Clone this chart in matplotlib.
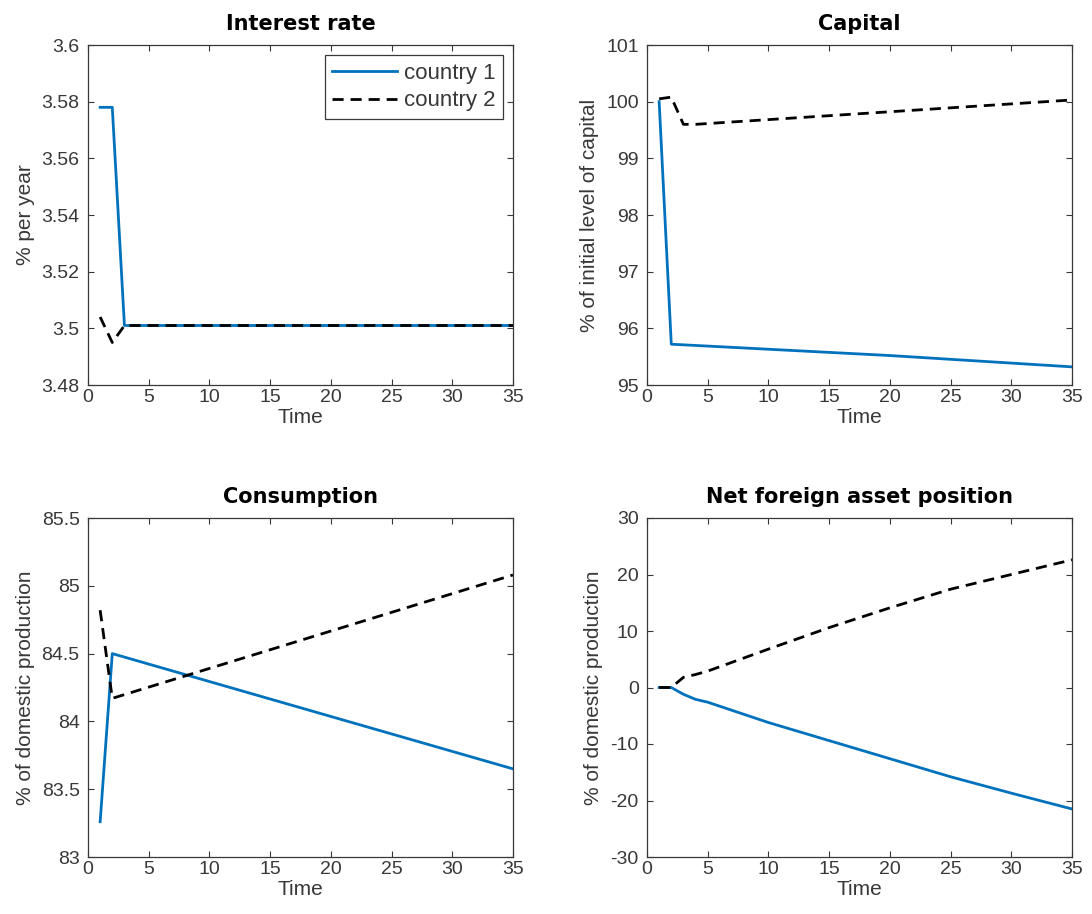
import numpy as np
import matplotlib
matplotlib.use("Agg")
import matplotlib.pyplot as plt
from matplotlib.ticker import FuncFormatter

plt.rcParams['font.family'] = ['Liberation Sans', 'DejaVu Sans']

# time axis for each panel (knot points)
t_rate = [1, 2, 3, 35]
rate_c1 = [3.578, 3.578, 3.501, 3.501]
rate_c2 = [3.504, 3.495, 3.501, 3.501]

t_cap1 = [1, 2, 20, 35]
cap_c1 = [100.0, 95.72, 95.52, 95.32]
t_cap2 = [1, 2, 3, 4, 35]
cap_c2 = [100.05, 100.08, 99.6, 99.6, 100.03]

t_cons = [1, 2, 35]
cons_c1 = [83.26, 84.5, 83.65]
cons_c2 = [84.82, 84.17, 85.08]

t_nfa = [1, 2, 3, 4, 5, 10, 15, 20, 25, 30, 35]
nfa_c1 = [0, 0, -1.2, -2.1, -2.6, -6.2, -9.4, -12.6, -15.8, -18.7, -21.5]
nfa_c2 = [0, 0, 1.8, 2.3, 2.9, 6.8, 10.6, 14.1, 17.4, 20.0, 22.6]

BLUE = '#0072BD'
GREY = '#383838'
DASH = (0, (4, 2.5))

fig = plt.figure(figsize=(10.92, 9.14), dpi=100)
W, H = 1092, 914


def make_ax(l, r, top, bot):
    return fig.add_axes([l / W, 1 - bot / H, (r - l) / W, (bot - top) / H])


def style(ax, title, ylabel, ylim, yticks):
    ax.set_xlim(0, 35)
    ax.set_xticks(range(0, 36, 5))
    ax.set_ylim(*ylim)
    ax.set_yticks(yticks)
    ax.yaxis.set_major_formatter(FuncFormatter(lambda v, p: '{:g}'.format(round(v, 6))))
    ax.tick_params(direction='in', top=True, right=True, labelsize=14,
                   length=4, width=0.8, colors=GREY)
    ax.tick_params(axis='y', pad=6)
    ax.tick_params(axis='x', pad=3)
    for s in ax.spines.values():
        s.set_linewidth(0.9)
        s.set_color(GREY)
    ax.set_title(title, fontsize=15, fontweight='bold', pad=11,
                 family=['DejaVu Sans'])
    ax.set_xlabel('Time', fontsize=15, color=GREY, labelpad=1)
    ax.set_ylabel(ylabel, fontsize=15, color=GREY, labelpad=5)


ax1 = make_ax(88, 513, 45, 385)
ax1.plot(t_rate, rate_c1, color=BLUE, lw=2, label='country 1')
ax1.plot(t_rate, rate_c2, color='k', lw=2, ls=DASH, label='country 2')
style(ax1, 'Interest rate', '% per year', (3.48, 3.6), np.arange(3.48, 3.601, 0.02))
leg = ax1.legend(loc='upper right', fontsize=16, fancybox=False, framealpha=1,
                 edgecolor=GREY, borderaxespad=0.45, handlelength=2.9,
                 borderpad=0.35, labelspacing=0.3, handletextpad=0.3)
leg.get_frame().set_linewidth(0.9)
for txt in leg.get_texts():
    txt.set_color(GREY)

ax2 = make_ax(647, 1072, 45, 385)
ax2.plot(t_cap1, cap_c1, color=BLUE, lw=2)
ax2.plot(t_cap2, cap_c2, color='k', lw=2, ls=DASH)
style(ax2, 'Capital', '% of initial level of capital', (95, 101), range(95, 102))

ax3 = make_ax(88, 513, 518, 857)
ax3.plot(t_cons, cons_c1, color=BLUE, lw=2)
ax3.plot(t_cons, cons_c2, color='k', lw=2, ls=DASH)
style(ax3, 'Consumption', '% of domestic production', (83, 85.5), np.arange(83, 85.51, 0.5))

ax4 = make_ax(647, 1072, 518, 857)
ax4.plot(t_nfa, nfa_c1, color=BLUE, lw=2)
ax4.plot(t_nfa, nfa_c2, color='k', lw=2, ls=DASH)
style(ax4, 'Net foreign asset position', '% of domestic production', (-30, 30), range(-30, 31, 10))

fig.savefig('out.png', dpi=100)
